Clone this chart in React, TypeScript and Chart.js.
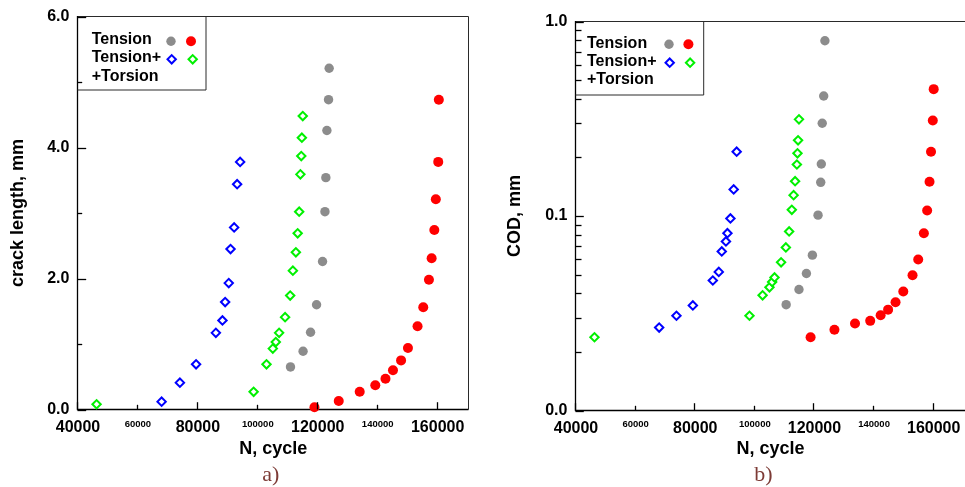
import React, { useEffect, useRef } from 'react';
import { Chart, registerables } from 'chart.js';

Chart.register(...registerables);

const FONT = '"Liberation Sans", Arial, sans-serif';

// ---------- shared x axis (N, cycle) ----------
const xTickValues = [40000, 60000, 80000, 100000, 120000, 140000, 160000];
const xMajorTicks = [40000, 80000, 120000, 160000];

// ---------- (a) crack length, mm ----------
const aYTicks = [0, 1, 2, 3, 4, 5, 6];
const aYLabelled = [0, 2, 4, 6];

const aGrayN = [110900, 115100, 117600, 119600, 121600, 122400, 122700, 123050, 123600, 123800];
const aGrayY = [0.65, 0.89, 1.18, 1.6, 2.26, 3.02, 3.54, 4.26, 4.73, 5.21];

const aRedN = [118900, 127000, 134000, 139200, 142600, 145100, 147800, 150100, 153300, 155200, 157100, 158000, 158900, 159400, 160200, 160400];
const aRedY = [0.035, 0.13, 0.27, 0.37, 0.47, 0.6, 0.75, 0.94, 1.27, 1.56, 1.98, 2.31, 2.74, 3.21, 3.78, 4.73];

const aBlueN = [67900, 74000, 79400, 86000, 88200, 89100, 90300, 90900, 92100, 93100, 94100];
const aBlueY = [0.12, 0.41, 0.69, 1.17, 1.36, 1.64, 1.93, 2.45, 2.78, 3.44, 3.78];

const aGreenN = [46200, 98600, 102900, 105000, 106000, 107100, 109100, 110800, 111700, 112700, 113300, 113800, 114200, 114500, 114700, 115000];
const aGreenY = [0.08, 0.27, 0.69, 0.93, 1.03, 1.17, 1.41, 1.74, 2.12, 2.4, 2.69, 3.02, 3.59, 3.87, 4.15, 4.48];

// ---------- (b) COD, mm (log) ----------
const bYTicks = [0.01, 0.02, 0.03, 0.04, 0.05, 0.06, 0.07, 0.08, 0.09, 0.1, 0.2, 0.3, 0.4, 0.5, 0.6, 0.7, 0.8, 0.9, 1];
const bYLabelled = [0.01, 0.1, 1];

const bGrayN = [110500, 114800, 117300, 119300, 121200, 122100, 122300, 122600, 123100, 123500];
const bGrayY = [0.035, 0.0419, 0.0506, 0.0629, 0.101, 0.149, 0.185, 0.3, 0.414, 0.796];

const bRedN = [118700, 126700, 133600, 138700, 142200, 144700, 147200, 149800, 152900, 154800, 156700, 157800, 158600, 159100, 159700, 160000];
const bRedY = [0.0238, 0.026, 0.028, 0.0289, 0.0309, 0.033, 0.036, 0.0409, 0.0496, 0.0597, 0.0816, 0.1068, 0.15, 0.214, 0.31, 0.449];

const bBlueN = [67900, 73700, 79200, 85900, 87900, 88900, 90300, 90800, 91800, 92900, 93900];
const bBlueY = [0.0267, 0.0307, 0.0347, 0.0466, 0.0516, 0.0657, 0.074, 0.0816, 0.0971, 0.137, 0.214];

const bGreenN = [46200, 98200, 102600, 104900, 105800, 106600, 108800, 110400, 111500, 112400, 113000, 113500, 114100, 114300, 114500, 114800];
const bGreenY = [0.0238, 0.0307, 0.0391, 0.043, 0.0458, 0.0483, 0.0578, 0.0689, 0.0833, 0.1076, 0.128, 0.151, 0.184, 0.21, 0.245, 0.314];

const legendRows = ['Tension', 'Tension+', '+Torsion'];

const GRAY = '#8c8c8c';
const RED = '#ff0000';
const BLUE = '#0000ff';
const GREEN = '#00f000';

const pts = (xs: number[], ys: number[]) => xs.map((x, i) => ({ x, y: ys[i] }));
const near = (arr: number[], v: number) => arr.some((a) => Math.abs(a - v) < 1e-9);

type PanelCfg = {
  canvasW: number;
  top: number;
  caLeft: number;
  caRight: number;
  caBottom: number;
  xMax: number;
  xLabelPad: number;
  yLog: boolean;
  yMin: number;
  yMax: number;
  yTicks: number[];
  yLabelled: number[];
  yTitle: string;
  yTitlePad: number;
  yMajorLen: number;
  yMinorLen: number;
  drawRight: boolean;
  legend: { textX: number; rows: number[]; mx1: number; mx2: number; my1: number; my2: number; w: number; h: number };
  sub: { text: string; x: number; y: number };
  data: { gray: { x: number; y: number }[]; red: { x: number; y: number }[]; blue: { x: number; y: number }[]; green: { x: number; y: number }[] };
};

function drawDiamond(ctx: CanvasRenderingContext2D, x: number, y: number, r: number, color: string) {
  ctx.beginPath();
  ctx.moveTo(x, y - r);
  ctx.lineTo(x + r, y);
  ctx.lineTo(x, y + r);
  ctx.lineTo(x - r, y);
  ctx.closePath();
  ctx.fillStyle = '#fff';
  ctx.fill();
  ctx.lineWidth = 2;
  ctx.strokeStyle = color;
  ctx.stroke();
}

function drawDot(ctx: CanvasRenderingContext2D, x: number, y: number, r: number, color: string) {
  ctx.beginPath();
  ctx.arc(x, y, r, 0, Math.PI * 2);
  ctx.fillStyle = color;
  ctx.fill();
}

function makeFramePlugin(c: PanelCfg) {
  return {
    id: 'frameDeco',
    beforeDatasetsDraw(chart: any) {
      const { ctx, chartArea: ca } = chart;
      const ax = ca.left - 0.5;
      ctx.save();
      // top / right frame
      ctx.strokeStyle = '#2a2a2a';
      ctx.lineWidth = 1;
      ctx.beginPath();
      ctx.moveTo(ax, ca.top);
      if (c.drawRight) {
        ctx.lineTo(ca.right, ca.top);
        ctx.lineTo(ca.right, ca.bottom);
      } else {
        ctx.lineTo(chart.width, ca.top);
      }
      ctx.stroke();
      // left & bottom axes
      ctx.strokeStyle = '#000';
      ctx.lineWidth = 1.3;
      ctx.beginPath();
      ctx.moveTo(ax, ca.top - 0.5);
      ctx.lineTo(ax, ca.bottom);
      ctx.lineTo(c.drawRight ? ca.right : chart.width, ca.bottom);
      ctx.stroke();
      ctx.restore();
    },
    afterDraw(chart: any) {
      const { ctx, chartArea: ca } = chart;
      const xs = chart.scales.x;
      const ys = chart.scales.y;
      const ax = ca.left - 0.5;
      ctx.save();
      // x ticks (pointing inward)
      ctx.strokeStyle = '#000000';
      ctx.lineWidth = 1.3;
      for (let i = 0; i < xTickValues.length; i++) {
        const v = xTickValues[i];
        const px = Math.round(xs.getPixelForValue(v)) - 0.5;
        const len = near(xMajorTicks, v) ? 7.3 : 4.7;
        ctx.beginPath();
        ctx.moveTo(px, ca.bottom);
        ctx.lineTo(px, ca.bottom - len);
        ctx.stroke();
      }
      // y ticks (pointing inward)
      for (let i = 0; i < c.yTicks.length; i++) {
        const v = c.yTicks[i];
        const py = Math.round(ys.getPixelForValue(v)) + 0.5;
        const len = near(c.yLabelled, v) ? c.yMajorLen : c.yMinorLen;
        ctx.beginPath();
        ctx.moveTo(ax, py);
        ctx.lineTo(ax + len, py);
        ctx.stroke();
      }

      const L = c.legend;
      const x0 = ca.left;
      const y0 = ca.top;
      // legend box (right & bottom edges)
      ctx.strokeStyle = '#2a2a2a';
      ctx.lineWidth = 1;
      ctx.beginPath();
      ctx.moveTo(ax, y0 + L.h);
      ctx.lineTo(x0 + L.w, y0 + L.h);
      ctx.lineTo(x0 + L.w, y0);
      ctx.stroke();
      // legend texts
      ctx.fillStyle = '#000';
      ctx.font = `bold 16px ${FONT}`;
      ctx.textAlign = 'left';
      ctx.textBaseline = 'middle';
      legendRows.forEach((t, i) => ctx.fillText(t, x0 + L.textX, y0 + L.rows[i]));
      // legend markers
      drawDot(ctx, x0 + L.mx1, y0 + L.my1, 4.7, GRAY);
      drawDot(ctx, x0 + L.mx2, y0 + L.my1, 5, RED);
      drawDiamond(ctx, x0 + L.mx1 + 0.7, y0 + L.my2, 4.2, BLUE);
      drawDiamond(ctx, x0 + L.mx2 + 1.7, y0 + L.my2, 4.2, GREEN);
      // sub-figure label
      ctx.fillStyle = '#7d3b36';
      ctx.font = '22px "Liberation Serif", "Times New Roman", serif';
      ctx.textAlign = 'center';
      ctx.textBaseline = 'middle';
      ctx.fillText(c.sub.text, c.sub.x, c.sub.y);
      ctx.restore();
    },
  };
}

function buildConfig(c: PanelCfg): any {
  const big = { family: FONT, size: 16, weight: 'bold' as const };
  const small = { family: FONT, size: 9.5, weight: 'bold' as const };
  const scatterSet = (data: any[], style: 'dot' | 'diamond', color: string, r: number) =>
    style === 'dot'
      ? { data, pointStyle: 'circle', pointRadius: r, backgroundColor: color, borderColor: color, borderWidth: 0, showLine: false, clip: false }
      : { data, pointStyle: 'rectRot', pointRadius: r, backgroundColor: '#ffffff', borderColor: color, borderWidth: 2, showLine: false, clip: false };
  return {
    type: 'scatter',
    data: {
      datasets: [
        scatterSet(c.data.gray, 'dot', GRAY, 4.7),
        scatterSet(c.data.red, 'dot', RED, 5),
        scatterSet(c.data.blue, 'diamond', BLUE, 4.2),
        scatterSet(c.data.green, 'diamond', GREEN, 4.2),
      ],
    },
    options: {
      responsive: false,
      maintainAspectRatio: false,
      animation: false,
      events: [],
      layout: { autoPadding: false, padding: { left: 0, top: c.top, right: c.canvasW - c.caRight, bottom: 0 } },
      plugins: { legend: { display: false }, tooltip: { enabled: false }, title: { display: false } },
      scales: {
        x: {
          type: 'linear',
          position: 'bottom',
          min: 40000,
          max: c.xMax,
          afterFit: (s: any) => {
            s.height = 487 - c.caBottom;
            s.paddingLeft = 0;
            s.paddingRight = 0;
          },
          afterBuildTicks: (s: any) => {
            s.ticks = xTickValues.map((v) => ({ value: v }));
          },
          grid: { display: false, drawTicks: false },
          border: { display: false },
          ticks: {
            autoSkip: false,
            maxRotation: 0,
            minRotation: 0,
            padding: c.xLabelPad,
            color: '#000',
            font: (ctx: any) => (ctx.tick && near(xMajorTicks, ctx.tick.value) ? big : small),
            callback: (v: any) => String(v),
          },
          title: {
            display: true,
            text: 'N, cycle',
            color: '#000',
            font: { family: FONT, size: 18, weight: 'bold' },
            padding: { top: 0, bottom: 26.7 },
          },
        },
        y: {
          type: c.yLog ? 'logarithmic' : 'linear',
          position: 'left',
          min: c.yMin,
          max: c.yMax,
          afterFit: (s: any) => {
            s.width = c.caLeft;
            s.paddingTop = 0;
            s.paddingBottom = 0;
          },
          afterBuildTicks: (s: any) => {
            s.ticks = c.yTicks.map((v) => ({ value: v }));
          },
          grid: { display: false, drawTicks: false },
          border: { display: false },
          ticks: {
            autoSkip: false,
            padding: 8.6,
            color: '#000',
            font: big,
            callback: (v: any) => (near(c.yLabelled, v) ? Number(v).toFixed(1) : ''),
          },
          title: {
            display: true,
            text: c.yTitle,
            color: '#000',
            font: { family: FONT, size: 18, weight: 'bold' },
            padding: { top: c.yTitlePad, bottom: 0 },
          },
        },
      },
    },
    plugins: [makeFramePlugin(c)],
  };
}

const panelA: PanelCfg = {
  canvasW: 480,
  top: 16.5,
  caLeft: 78,
  caRight: 468.5,
  caBottom: 409.5,
  xMax: 170300,
  xLabelPad: 8.8,
  yLog: false,
  yMin: 0,
  yMax: 6,
  yTicks: aYTicks,
  yLabelled: aYLabelled,
  yTitle: 'crack length, mm',
  yTitlePad: 7.5,
  yMajorLen: 8.7,
  yMinorLen: 4.7,
  drawRight: true,
  legend: { textX: 13.7, rows: [23.5, 41.2, 60.2], mx1: 93, mx2: 113, my1: 24.8, my2: 42.8, w: 128, h: 73.5 },
  sub: { text: 'a)', x: 270.7, y: 475 },
  data: { gray: pts(aGrayN, aGrayY), red: pts(aRedN, aRedY), blue: pts(aBlueN, aBlueY), green: pts(aGreenN, aGreenY) },
};

const panelB: PanelCfg = {
  canvasW: 485,
  top: 21.5,
  caLeft: 96,
  caRight: 485,
  caBottom: 410.5,
  xMax: 170500,
  xLabelPad: 8.2,
  yLog: true,
  yMin: 0.01,
  yMax: 1,
  yTicks: bYTicks,
  yLabelled: bYLabelled,
  yTitle: 'COD, mm',
  yTitlePad: 24.2,
  yMajorLen: 8.3,
  yMinorLen: 6,
  drawRight: false,
  legend: { textX: 11, rows: [21.8, 40.2, 58.5], mx1: 93, mx2: 112.4, my1: 22.8, my2: 41.2, w: 127.7, h: 73.5 },
  sub: { text: 'b)', x: 283.3, y: 475 },
  data: { gray: pts(bGrayN, bGrayY), red: pts(bRedN, bRedY), blue: pts(bBlueN, bBlueY), green: pts(bGreenN, bGreenY) },
};

function Panel({ cfg, left }: { cfg: PanelCfg; left: number }) {
  const ref = useRef<HTMLCanvasElement>(null);
  useEffect(() => {
    if (!ref.current) return;
    const chart = new Chart(ref.current, buildConfig(cfg));
    return () => chart.destroy();
  }, [cfg]);
  return (
    <canvas
      ref={ref}
      width={cfg.canvasW}
      height={487}
      style={{ position: 'absolute', left, top: 0, width: cfg.canvasW, height: 487, display: 'block' }}
    />
  );
}

export default function App() {
  return (
    <div
      style={{
        position: 'fixed',
        left: 0,
        top: 0,
        width: 965,
        height: 487,
        overflow: 'hidden',
        background: '#ffffff',
      }}
    >
      <Panel cfg={panelA} left={0} />
      <Panel cfg={panelB} left={480} />
    </div>
  );
}
